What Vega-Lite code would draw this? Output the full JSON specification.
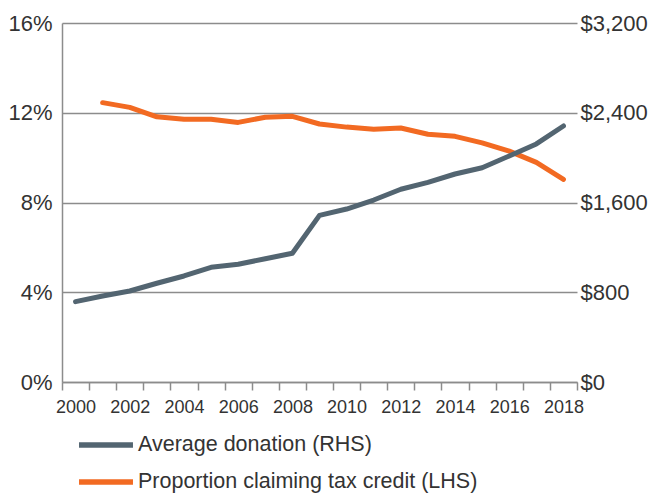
{
  "$schema": "https://vega.github.io/schema/vega-lite/v6.json",
  "autosize": {"type": "none"},
  "width": 515,
  "height": 359,
  "padding": {"left": 62, "top": 23, "right": 77, "bottom": 112},
  "background": "white",
  "config": {
    "view": {"stroke": null},
    "font": "Liberation Sans",
    "axis": {"labelFont": "Liberation Sans", "labelColor": "#333333", "titleFont": "Liberation Sans"}
  },
  "data": {
    "values": [
      {"year": "2000", "series": "Average donation (RHS)", "value": 716},
      {"year": "2001", "series": "Average donation (RHS)", "value": 767},
      {"year": "2002", "series": "Average donation (RHS)", "value": 811},
      {"year": "2003", "series": "Average donation (RHS)", "value": 880},
      {"year": "2004", "series": "Average donation (RHS)", "value": 945},
      {"year": "2005", "series": "Average donation (RHS)", "value": 1022},
      {"year": "2006", "series": "Average donation (RHS)", "value": 1049},
      {"year": "2007", "series": "Average donation (RHS)", "value": 1099},
      {"year": "2008", "series": "Average donation (RHS)", "value": 1147},
      {"year": "2009", "series": "Average donation (RHS)", "value": 1485},
      {"year": "2010", "series": "Average donation (RHS)", "value": 1542},
      {"year": "2011", "series": "Average donation (RHS)", "value": 1622},
      {"year": "2012", "series": "Average donation (RHS)", "value": 1718},
      {"year": "2013", "series": "Average donation (RHS)", "value": 1780},
      {"year": "2014", "series": "Average donation (RHS)", "value": 1854},
      {"year": "2015", "series": "Average donation (RHS)", "value": 1910},
      {"year": "2016", "series": "Average donation (RHS)", "value": 2015},
      {"year": "2017", "series": "Average donation (RHS)", "value": 2122},
      {"year": "2018", "series": "Average donation (RHS)", "value": 2282},
      {"year": "2001", "series": "Proportion claiming tax credit (LHS)", "value": 12.45},
      {"year": "2002", "series": "Proportion claiming tax credit (LHS)", "value": 12.24},
      {"year": "2003", "series": "Proportion claiming tax credit (LHS)", "value": 11.82},
      {"year": "2004", "series": "Proportion claiming tax credit (LHS)", "value": 11.71},
      {"year": "2005", "series": "Proportion claiming tax credit (LHS)", "value": 11.71},
      {"year": "2006", "series": "Proportion claiming tax credit (LHS)", "value": 11.57},
      {"year": "2007", "series": "Proportion claiming tax credit (LHS)", "value": 11.8},
      {"year": "2008", "series": "Proportion claiming tax credit (LHS)", "value": 11.84},
      {"year": "2009", "series": "Proportion claiming tax credit (LHS)", "value": 11.5},
      {"year": "2010", "series": "Proportion claiming tax credit (LHS)", "value": 11.36},
      {"year": "2011", "series": "Proportion claiming tax credit (LHS)", "value": 11.26},
      {"year": "2012", "series": "Proportion claiming tax credit (LHS)", "value": 11.32},
      {"year": "2013", "series": "Proportion claiming tax credit (LHS)", "value": 11.04},
      {"year": "2014", "series": "Proportion claiming tax credit (LHS)", "value": 10.95},
      {"year": "2015", "series": "Proportion claiming tax credit (LHS)", "value": 10.66},
      {"year": "2016", "series": "Proportion claiming tax credit (LHS)", "value": 10.29},
      {"year": "2017", "series": "Proportion claiming tax credit (LHS)", "value": 9.79},
      {"year": "2018", "series": "Proportion claiming tax credit (LHS)", "value": 9.03}
    ]
  },
  "encoding": {
    "x": {
      "field": "year",
      "type": "ordinal",
      "scale": {"type": "band", "paddingInner": 0, "paddingOuter": 0, "domain": ["2000","2001","2002","2003","2004","2005","2006","2007","2008","2009","2010","2011","2012","2013","2014","2015","2016","2017","2018"]},
      "axis": {
        "title": null,
        "tickBand": "extent",
        "labelAngle": 0,
        "labelExpr": "toNumber(datum.value) % 2 == 0 ? datum.label : ''",
        "labelFontSize": 18,
        "labelPadding": 8,
        "domainColor": "#8c8c8c",
        "domainWidth": 1.5,
        "tickColor": "#8c8c8c",
        "tickWidth": 1.5,
        "tickSize": 8,
        "grid": false
      }
    },
    "color": {
      "field": "series",
      "type": "nominal",
      "scale": {"domain": ["Average donation (RHS)", "Proportion claiming tax credit (LHS)"], "range": ["#536571", "#f26a22"]},
      "legend": {
        "title": null,
        "orient": "none",
        "legendX": 30,
        "legendY": 408,
        "direction": "vertical",
        "symbolType": "M-2.5,0H2.5",
        "symbolSize": 466,
        "symbolStrokeWidth": 5.5,
        "labelFont": "Liberation Sans",
        "labelFontSize": 21.5,
        "labelColor": "#333333",
        "labelOffset": 18,
        "rowPadding": 12,
        "labelLimit": 500
      }
    }
  },
  "layer": [
    {
      "transform": [{"filter": "datum.series == 'Proportion claiming tax credit (LHS)'"}],
      "mark": {"type": "line", "strokeWidth": 5, "strokeCap": "round", "strokeJoin": "round"},
      "encoding": {
        "y": {
          "field": "value",
          "type": "quantitative",
          "scale": {"domain": [0, 16], "nice": false},
          "axis": {
            "title": null,
            "values": [0, 4, 8, 12, 16],
            "labelExpr": "datum.value + '%'",
            "labelFontSize": 22,
            "labelPadding": 10,
            "ticks": false,
            "domainColor": "#8c8c8c",
            "domainWidth": 1.5,
            "grid": true,
            "gridColor": "#8c8c8c",
            "gridWidth": 1.5
          }
        }
      }
    },
    {
      "transform": [{"filter": "datum.series == 'Average donation (RHS)'"}],
      "mark": {"type": "line", "strokeWidth": 5, "strokeCap": "round", "strokeJoin": "round"},
      "encoding": {
        "y": {
          "field": "value",
          "type": "quantitative",
          "scale": {"domain": [0, 3200], "nice": false},
          "axis": {
            "title": null,
            "orient": "right",
            "values": [0, 800, 1600, 2400, 3200],
            "format": "$,.0f",
            "labelFontSize": 22,
            "labelPadding": 3,
            "ticks": false,
            "domain": false,
            "grid": false
          }
        }
      }
    }
  ],
  "resolve": {"scale": {"y": "independent"}, "axis": {"y": "independent"}}
}
